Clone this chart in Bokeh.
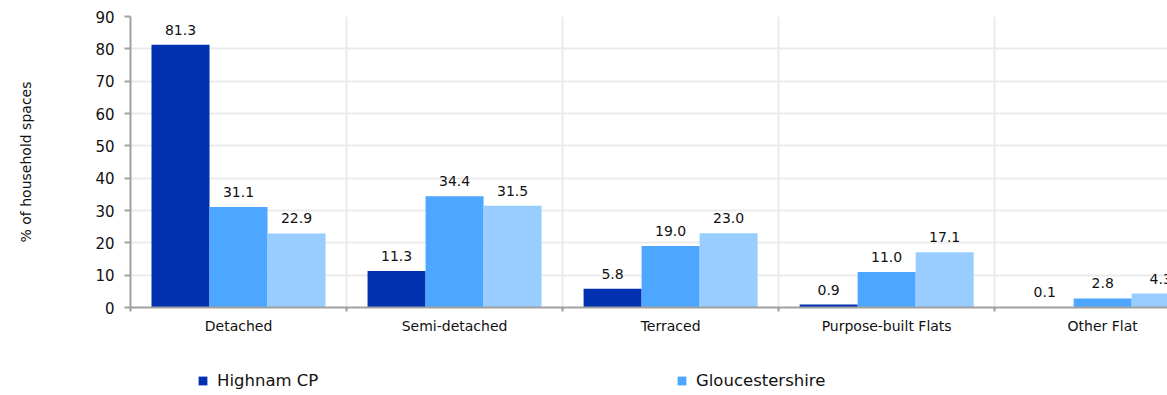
from bokeh.plotting import figure
from bokeh.layouts import column
from bokeh.models import ColumnDataSource, Range1d, FixedTicker, Legend, LegendItem
from bokeh.embed import file_html
from bokeh.resources import INLINE

categories = ["Detached", "Semi-detached", "Terraced", "Purpose-built Flats", "Other Flat"]
highnam = [81.3, 11.3, 5.8, 0.9, 0.1]
gloucestershire = [31.1, 34.4, 19.0, 11.0, 2.8]
england = [22.9, 31.5, 23.0, 17.1, 4.3]
series_names = ["Highnam CP", "Gloucestershire", "England"]
colors = ["#0130B0", "#4DA6FF", "#99CCFF"]
y_ticks = [0, 10, 20, 30, 40, 50, 60, 70, 80, 90]

FONT = "DejaVu Sans"
n = len(categories)
centers = [i + 0.5 for i in range(n)]
bounds = list(range(n + 1))
bar_w = 0.2685
offsets = [-bar_w, 0.0, bar_w]

p = figure(width=1167, height=347, output_backend="svg", toolbar_location=None,
           x_range=Range1d(0, 4.8), y_range=Range1d(0, 90),
           min_border_left=130, min_border_right=0, min_border_top=16, min_border_bottom=40)
p.outline_line_color = None
p.background_fill_color = "white"

for vals, off, col in zip([highnam, gloucestershire, england], offsets, colors):
    src = ColumnDataSource(dict(x=[c + off for c in centers], top=vals,
                                lab=[f"{v:.1f}" for v in vals]))
    p.vbar(x="x", top="top", width=bar_w, bottom=0, source=src,
           fill_color=col, line_color=None)
    p.text(x="x", y="top", text="lab", source=src, text_align="center",
           text_baseline="alphabetic", y_offset=-15, text_font_size="14px",
           text_color="#111111", text_font={"value": FONT})

# x axis: labels at category centres, ticks/grid at boundaries
p.xaxis.ticker = FixedTicker(ticks=centers, minor_ticks=bounds)
p.xaxis.major_label_overrides = {c: cat for c, cat in zip(centers, categories)}
p.xaxis.major_tick_out = 0
p.xaxis.major_tick_in = 0
p.xaxis.minor_tick_out = 4
p.xaxis.minor_tick_in = 0
p.xaxis.minor_tick_line_color = "#999999"
p.xaxis.minor_tick_line_width = 2
p.xaxis.axis_line_color = "#a0a0a0"
p.xaxis.axis_line_width = 2
p.xaxis.major_label_text_font = FONT
p.xaxis.major_label_text_font_size = "14px"
p.xaxis.major_label_text_color = "#111111"
p.xaxis.major_label_standoff = 6
p.xgrid.grid_line_color = None
p.xgrid.minor_grid_line_color = "#ebebeb"
p.xgrid.minor_grid_line_width = 2

p.yaxis.ticker = FixedTicker(ticks=y_ticks)
p.yaxis.minor_tick_line_color = None
p.yaxis.major_tick_out = 6
p.yaxis.major_tick_in = 0
p.yaxis.major_tick_line_color = "#a0a0a0"
p.yaxis.major_tick_line_width = 2
p.yaxis.axis_line_color = "#a0a0a0"
p.yaxis.axis_line_width = 2
p.yaxis.major_label_text_font = FONT
p.yaxis.major_label_text_font_size = "15px"
p.yaxis.major_label_text_color = "#111111"
p.yaxis.major_label_standoff = 10
p.yaxis.axis_label = "% of household spaces"
p.yaxis.axis_label_text_font = FONT
p.yaxis.axis_label_text_font_size = "14px"
p.yaxis.axis_label_text_font_style = "normal"
p.yaxis.axis_label_text_color = "#111111"
p.yaxis.axis_label_standoff = 58
p.ygrid.grid_line_color = "#ebebeb"
p.ygrid.grid_line_width = 2

# legend strip below the chart (its frame is aligned with the chart frame, starting at x=130)
lg = figure(width=1167, height=48, output_backend="svg", toolbar_location=None,
            x_range=Range1d(0, 1), y_range=Range1d(0, 1),
            min_border_left=0, min_border_right=0, min_border_top=0, min_border_bottom=0)
lg.axis.visible = False
lg.grid.visible = False
lg.outline_line_color = None
legend_x = [67, 546]
for i in range(2):
    # zero-height swatch renderer: only its legend entry is visible
    r = lg.vbar(x=[0.5], top=[0], bottom=[0], width=0.01, fill_color=colors[i], line_color=None)
    legend = Legend(items=[LegendItem(label=series_names[i], renderers=[r])],
                    orientation="horizontal", location=(legend_x[i], 5), padding=0, margin=0,
                    glyph_width=11, glyph_height=11, label_standoff=9,
                    label_text_font=FONT, label_text_font_size="16.5px", label_text_color="#111111",
                    border_line_color=None, background_fill_alpha=0)
    lg.add_layout(legend, "center")

layout = column(p, lg, spacing=0)
open("out.html", "w").write(file_html(layout, INLINE))
